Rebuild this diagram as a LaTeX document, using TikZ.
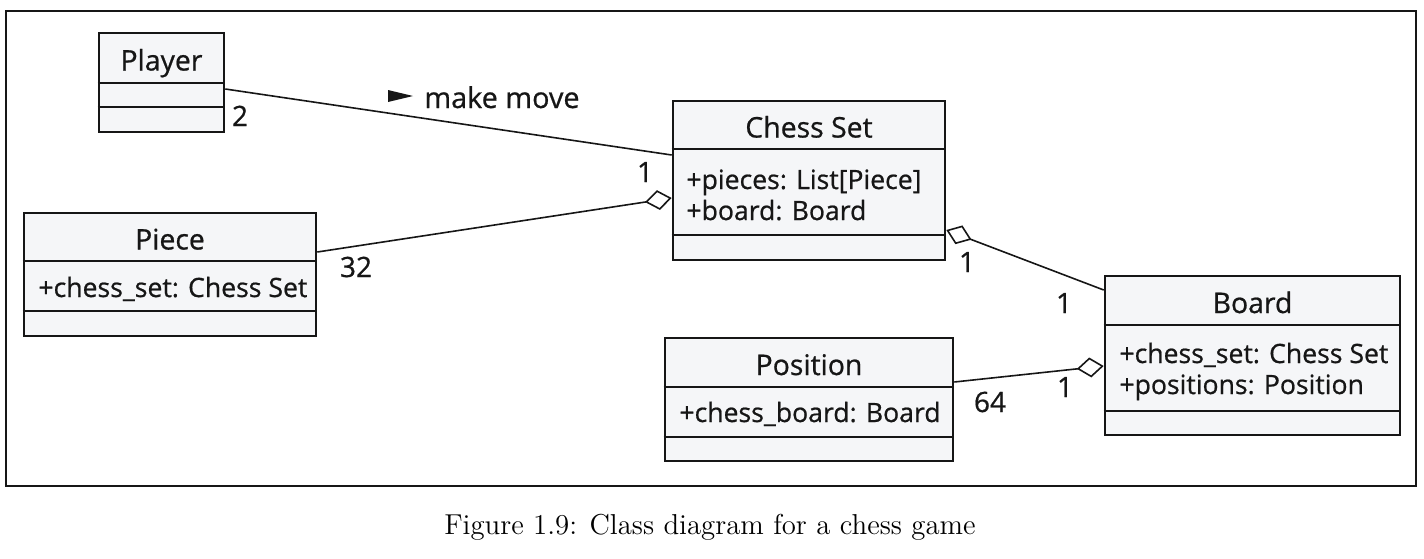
\documentclass[tikz,border=0pt]{standalone}
\usepackage{fontspec}
\setsansfont{Open Sans}[FakeBold=0.7]
\usetikzlibrary{arrows.meta}

\definecolor{boxfill}{HTML}{F5F6F8}
\definecolor{ink}{HTML}{161616}

\tikzstyle{cbox}   = [draw=ink, fill=boxfill, line width=1.3pt, inner sep=0pt]
\tikzstyle{cline}  = [draw=ink, line width=1.3pt]
\tikzstyle{ctitle} = [anchor=base, inner sep=0pt, text=ink, font=\sffamily\fontsize{14.2}{17}\selectfont]
\tikzstyle{cattr}  = [anchor=base west, inner sep=0pt, align=left, text=ink, font=\sffamily\fontsize{13.3}{15.5}\selectfont]
\tikzstyle{mult}   = [anchor=base, inner sep=0pt, text=ink, font=\sffamily\fontsize{14}{17}\selectfont]
\tikzstyle{assoc}  = [draw=ink, line width=0.8pt]
\tikzstyle{aggr}   = [assoc, -{Diamond[open, fill=white, length=13.5pt, width=10pt, line width=0.8pt]}]

% name, left, top, right, bottom, first rule, second rule, title
\def\umlclass#1#2#3#4#5#6#7#8{
  \node[cbox, minimum width={(#4-#2)*0.5pt}, minimum height={(#5-#3)*0.5pt}]
    (#1) at ({(#2+#4)/2},{(#3+#5)/2}) {};
  \draw[cline] (#1.west |- 0,#6) -- (#1.east |- 0,#6);
  \draw[cline] (#1.west |- 0,#7) -- (#1.east |- 0,#7);
  \node[ctitle] (#1 title) at ({(#2+#4)/2},{(#3+#6)/2+12.5}) {#8};
}

\begin{document}
\begin{tikzpicture}[x=0.5pt, y=-0.5pt]
  \useasboundingbox (0,0) rectangle (1424,558);
  \draw[draw=ink, line width=1pt] (6,11) rectangle (1416,486);

  \umlclass{player}{99}{33}{224}{132}{83}{107}{Player}
  \umlclass{chess}{673}{101}{945}{260}{149}{235}{Chess Set}
  \umlclass{piece}{24}{213}{316}{336}{261}{311}{Piece}
  \umlclass{board}{1105}{276}{1400}{435}{325}{411}{Board}
  \umlclass{position}{665}{338}{953}{461}{387}{437}{Position}

  % base of a two-line node is its last line
  \node[cattr] (chess attr) at (686,220) {+pieces: List[Piece]\\+board: Board};
  \node[cattr] (piece attr) at (38,297) {+chess\_set: Chess Set};
  \node[cattr] (board attr) at (1119,394) {+chess\_set: Chess Set\\+positions: Position};
  \node[cattr] (position attr) at (679,422) {+chess\_board: Board};

  % associations
  \draw[assoc] (player.east |- 0,89) -- (chess.west |- 0,155);
  \draw[aggr] (piece.east |- 0,252) -- (chess.west |- 0,198);
  \draw[aggr] (board.west |- 0,290) -- (chess.east |- 0,230);
  \draw[aggr] (position.east |- 0,382) -- (board.west |- 0,366);

  \node[cattr, font=\sffamily\fontsize{14.4}{17}\selectfont] (move) at (424,108) {make move};
  \fill[ink] (388,90) -- (413,96) -- (388,102) -- cycle;

  % multiplicities
  \node[mult] (m player) at (240,126) {2};
  \node[mult] (m chess l) at (645,182) {1};
  \node[mult] (m piece) at (356,277) {32};
  \node[mult] (m chess r) at (967,272) {1};
  \node[mult] (m board t) at (1064,313) {1};
  \node[mult] (m position) at (990,412) {64};
  \node[mult] (m board l) at (1065,397) {1};

  \node[anchor=base, inner sep=0pt, font=\rmfamily\fontsize{14.4}{17}\selectfont]
    (caption) at (710,534) {Figure 1.9: Class diagram for a chess game};
\end{tikzpicture}
\end{document}
